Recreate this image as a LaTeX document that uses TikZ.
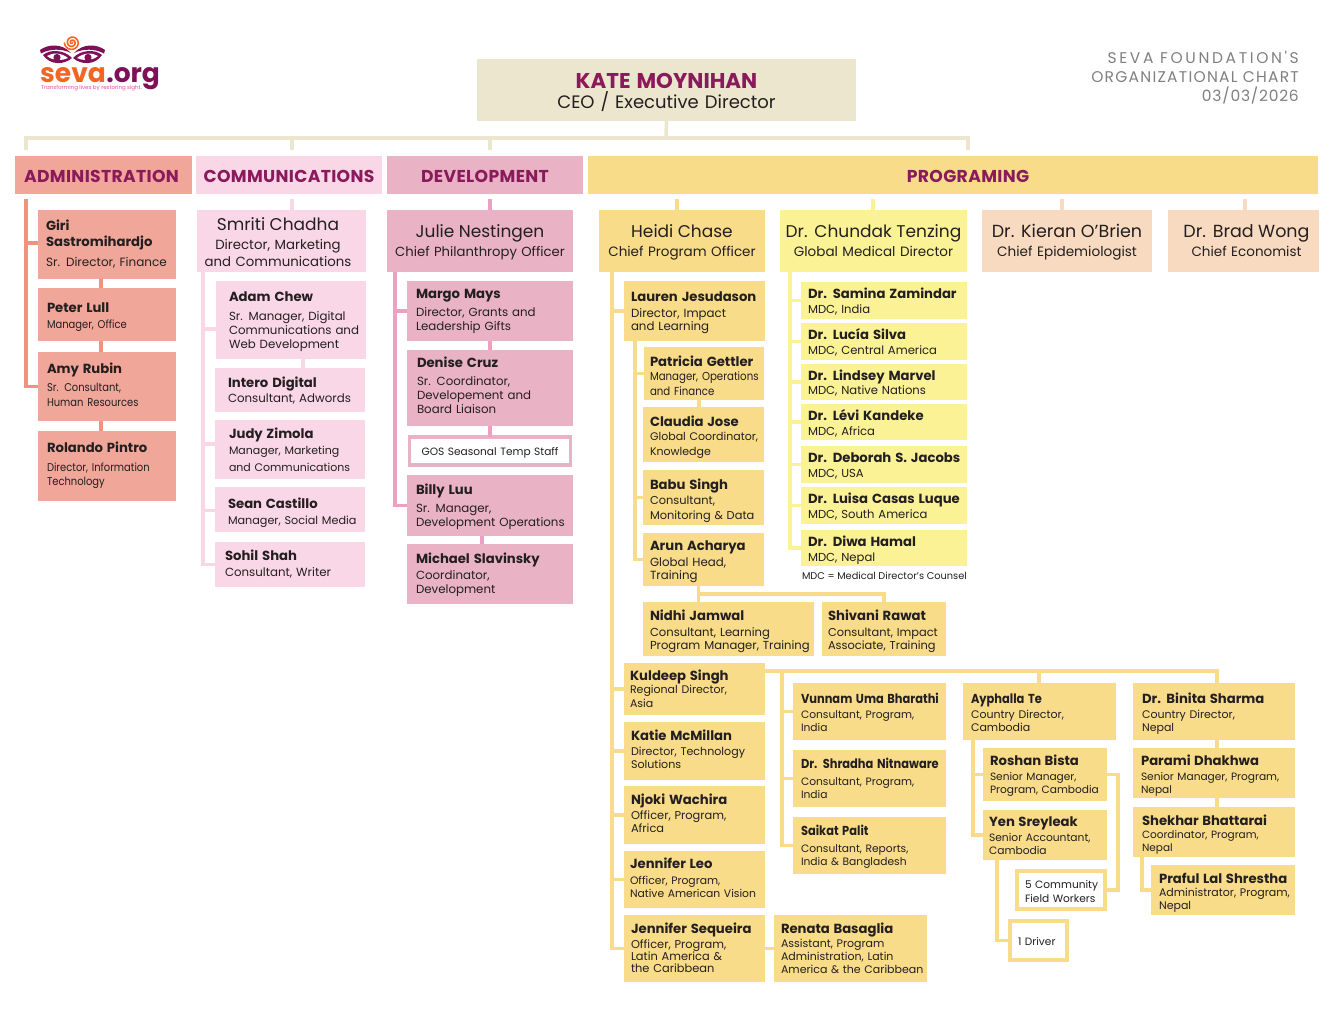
\documentclass[tikz,border=0pt]{standalone}
\usepackage{fontspec}
\usepackage{tikz}
\usetikzlibrary{positioning}
\setmainfont{Poppins}
\newfontfamily\trackfont{Poppins}
\newfontfamily\headfont[LetterSpace=2]{Poppins}
\newfontfamily\tightfont[FakeStretch=0.88]{Poppins}
\definecolor{ceofill}{HTML}{EDE6CE}
\definecolor{adminfill}{HTML}{F0A698}
\definecolor{adminline}{HTML}{EF9380}
\definecolor{commfill}{HTML}{FAD7E6}
\definecolor{devfill}{HTML}{E9B2C5}
\definecolor{devline}{HTML}{EE9FC4}
\definecolor{progfill}{HTML}{F8DC8A}
\definecolor{medfill}{HTML}{FBF295}
\definecolor{peachfill}{HTML}{F8DAC0}
\definecolor{headtext}{HTML}{8A1A5B}
\definecolor{inktext}{HTML}{231F20}
\definecolor{greytext}{HTML}{808080}
\definecolor{sevapurple}{HTML}{7F0F57}
\definecolor{sevaorange}{HTML}{F26522}
\definecolor{sevapink}{HTML}{EE4B9B}
\newcommand{\who}[1]{{\normalfont\bfseries\fontsize{13.2}{14.5}\selectfont #1}}
\newcommand{\whotight}[1]{{\tightfont\bfseries\fontsize{13}{14.5}\selectfont #1}}
\newcommand{\chief}[1]{{\fontsize{17}{20}\selectfont #1}}
\tikzset{
  orgbox/.style={anchor=north west,inner ysep=0pt,outer sep=0pt,align=left,text=inktext,role={11.8}{14}},
  role/.style 2 args={font=\fontsize{#1}{#2}\selectfont},
  tightrole/.style 2 args={font=\tightfont\fontsize{#1}{#2}\selectfont},
  wh/.style n args={4}{minimum width=#1pt,inner xsep=0pt,text width=#1pt,text height=#4pt,text depth=#2pt-#4pt,execute at begin node={\hyphenpenalty=10000\lineskiplimit=-100pt\leftskip=#3pt\relax}},
  cwh/.style n args={3}{minimum width=#1pt,inner xsep=0pt,text width=#1pt,text height=#3pt,text depth=#2pt-#3pt,execute at begin node={\hyphenpenalty=10000\lineskiplimit=-100pt\relax}},
  headbox/.style={orgbox,align=center,font=\headfont\bfseries\fontsize{17.2}{18}\selectfont,text=headtext},
  chiefbox/.style={orgbox,align=center,role={13.5}{17}},
  adminbox/.style={orgbox,fill=adminfill},
  commbox/.style={orgbox,fill=commfill},
  devbox/.style={orgbox,fill=devfill},
  progbox/.style={orgbox,fill=progfill},
  medbox/.style={orgbox,fill=medfill,role={11.6}{15}},
  outlinebox/.style={orgbox,fill=white,line width=3.6pt},
  link/.style={line width=3.6pt},
  ceolink/.style={link,draw=ceofill},
  adminlink/.style={link,draw=adminline},
  commlink/.style={link,draw=commfill},
  devlink/.style={link,draw=devline},
  proglink/.style={link,draw=progfill},
  medlink/.style={link,draw=medfill},
  peachlink/.style={link,draw=peachfill},
  eye/.pic={
    \fill [sevapurple] (40,50) .. controls (48,44) and (62,43) .. (71,53) .. controls (62,48.5) and (50,48.5) .. (41,53.5) -- cycle;
    \fill [sevapurple] (43,55) .. controls (50,49) and (64,49.5) .. (72,58) .. controls (64,65) and (50,65.5) .. (43,55) -- cycle;
    \fill [white] (47,56) .. controls (53,52) and (62,53) .. (68,58) .. controls (62,61) and (53,61) .. (47,56) -- cycle;
    \fill [sevapurple] (57,57.5) circle (3.6);
  },
}
\begin{document}
\begin{tikzpicture}[x=1pt,y=-1pt]
\useasboundingbox [fill=white] (0,0) rectangle (1340,1018);
\pic at (0,0) {eye};
\pic [xscale=-1] at (145,0) {eye};
\draw [sevaorange,line width=1.6pt] plot [domain=0:900,samples=70,smooth] ({72+0.0085*\x*cos(\x)},{42.5+0.0085*\x*sin(\x)});
\node [anchor=base west,inner sep=0pt,text=sevaorange,font=\bfseries\fontsize{26.5}{26}\selectfont] (sevaword) at (40,82) {seva};
\node [anchor=base west,inner sep=0pt,text=sevapurple,font=\bfseries\fontsize{26.5}{26}\selectfont] (orgword) at (sevaword.base east) {.org};
\node [anchor=base west,inner sep=0pt,text=sevapink,font=\fontsize{5.5}{6}\selectfont] (tagline) at (41,89) {Transforming lives by restoring sight.};
\node [anchor=north east,inner sep=0pt,align=right,text=greytext,font=\trackfont\fontsize{15.5}{19}\selectfont] (charttitle) at (1299,51) {{\addfontfeature{LetterSpace=17}SEVA FOUNDATION'S}\\{\addfontfeature{LetterSpace=8}ORGANIZATIONAL CHART}\\{\addfontfeature{LetterSpace=5}03/03/2026}};
\node [orgbox,fill=ceofill,align=center,cwh={379}{62}{29},role={18}{20}] (ceo) at (477,59) {{\bfseries\fontsize{21.4}{24}\selectfont\color{headtext}KATE MOYNIHAN}\\CEO / Executive Director};
\node [headbox,fill=adminfill,cwh={177}{38}{26}] (admin) at (15,156) {\hspace*{-4pt}ADMINISTRATION};
\node [headbox,fill=commfill,cwh={186}{38}{26}] (comm) at (196,156) {COMMUNICATIONS};
\node [headbox,fill=devfill,cwh={196}{38}{26}] (dev) at (387,156) {DEVELOPMENT};
\node [headbox,fill=progfill,cwh={730}{38}{26}] (prog) at (588,156) {\hspace*{30pt}PROGRAMING};
\node [adminbox,wh={138}{69}{8}{20},role={12}{14}] (giri) at (38,210) {\who{Giri}\\[2pt]\who{Sastromihardjo}\\[6pt]Sr. Director, Finance};
\node [adminbox,wh={138}{53}{9}{24},tightrole={11.3}{16}] (peter) at (38,288) {\who{Peter Lull}\\Manager, Office};
\node [adminbox,wh={138}{69}{9}{21},tightrole={11.3}{15}] (amy) at (38,352) {\who{Amy Rubin}\\[3pt]Sr. Consultant,\\Human Resources};
\node [adminbox,wh={138}{70}{9}{21},tightrole={11.3}{14}] (rolando) at (38,431) {\who{Rolando Pintro}\\[5pt]Director, Information\\Technology};
\node [chiefbox,fill=commfill,cwh={169}{62}{20},role={13.3}{17}] (smriti) at (197,210) {\hspace*{-7pt}\chief{Smriti Chadha}\\[2pt]\hspace*{-7pt}Director, Marketing\\\hspace*{-7pt}and Communications};
\node [commbox,wh={150}{78}{13}{20}] (adam) at (216,281) {\who{Adam Chew}\\[5pt]Sr. Manager, Digital\\Communications and\\Web Development};
\node [commbox,wh={150}{44}{13}{19},role={11.8}{15}] (intero) at (215,368) {\who{Intero Digital}\\Consultant, Adwords};
\node [commbox,wh={150}{59}{14}{18},role={11}{16.5}] (judy) at (215,420) {\who{Judy Zimola}\\Manager, Marketing\\and Communications};
\node [commbox,wh={150}{45}{13}{21},role={11.2}{16}] (sean) at (215,487) {\who{Sean Castillo}\\Manager, Social Media};
\node [commbox,wh={150}{45}{10}{18},role={11.8}{16}] (sohil) at (215,542) {\who{Sohil Shah}\\Consultant, Writer};
\node [chiefbox,fill=devfill,cwh={186}{62}{27},role={13.2}{19}] (julie) at (387,210) {\chief{Julie Nestingen}\\Chief Philanthropy Officer};
\node [devbox,wh={166}{60}{9}{17}] (margo) at (407,281) {\who{Margo Mays}\\[4pt]Director, Grants and\\Leadership Gifts};
\node [devbox,wh={166}{76}{10}{17}] (denise) at (407,350) {\who{Denise Cruz}\\[4pt]Sr. Coordinator,\\Developement and\\Board Liaison};
\node [outlinebox,draw=devfill,align=center,cwh={161}{28}{18},role={10.6}{12}] (gos) at (409.5,437) {GOS Seasonal Temp Staff};
\node [devbox,wh={166}{61}{9}{19}] (billy) at (407,475) {\who{Billy Luu}\\[4pt]Sr. Manager,\\Development Operations};
\node [devbox,wh={166}{60}{9}{19}] (michael) at (407,544) {\who{Michael Slavinsky}\\[2pt]Coordinator,\\Development};
\node [chiefbox,fill=progfill,cwh={166}{62}{27},role={13.5}{19}] (heidi) at (599,210) {\chief{Heidi Chase}\\Chief Program Officer};
\node [chiefbox,fill=medfill,cwh={187}{62}{27},role={13.5}{19}] (chundak) at (780,210) {\chief{Dr. Chundak Tenzing}\\Global Medical Director};
\node [chiefbox,fill=peachfill,cwh={170}{62}{27},role={13.6}{19}] (kieran) at (982,210) {{\fontsize{17.5}{20}\selectfont Dr. Kieran O'Brien}\\Chief Epidemiologist};
\node [chiefbox,fill=peachfill,cwh={151}{62}{27},role={13.5}{19}] (brad) at (1168,210) {\hspace*{6pt}{\fontsize{17.5}{20}\selectfont Dr. Brad Wong}\\\hspace*{6pt}Chief Economist};
\node [progbox,wh={141}{60}{7}{20},role={11.8}{13}] (lauren) at (624,281) {\who{Lauren Jesudason}\\[3pt]Director, Impact\\and Learning};
\node [progbox,wh={120}{53}{6}{19},tightrole={11.6}{14.5}] (patricia) at (644,347) {\who{Patricia Gettler}\\Manager, Operations\\and Finance};
\node [progbox,wh={121}{55}{7}{19},role={11}{14.5}] (claudia) at (643,407) {\who{Claudia Jose}\\Global Coordinator,\\Knowledge};
\node [progbox,wh={121}{55}{7}{19},role={11.4}{15}] (babu) at (643,470) {\who{Babu Singh}\\Consultant,\\Monitoring \& Data};
\node [progbox,wh={121}{53}{7}{17},role={11.8}{12.5}] (arun) at (643,533) {\who{Arun Acharya}\\[4pt]Global Head,\\Training};
\node [progbox,wh={171}{54}{7}{18},role={11.6}{13}] (nidhi) at (643,602) {\who{Nidhi Jamwal}\\[3pt]Consultant, Learning\\Program Manager, Training};
\node [progbox,wh={124}{54}{6}{18},role={11.4}{13}] (shivani) at (822,602) {\who{Shivani Rawat}\\[3pt]Consultant, Impact\\Associate, Training};
\node [medbox,wh={166}{37}{7}{16}] (samina) at (801,282) {\who{Dr. Samina Zamindar}\\MDC, India};
\node [medbox,wh={166}{37}{7}{16}] (lucia) at (801,323) {\who{Dr. Lucía Silva}\\MDC, Central America};
\node [medbox,wh={166}{36}{7}{16},role={11.6}{14}] (lindsey) at (801,364) {\who{Dr. Lindsey Marvel}\\MDC, Native Nations};
\node [medbox,wh={166}{36}{7}{16}] (levi) at (801,404) {\who{Dr. Lévi Kandeke}\\MDC, Africa};
\node [medbox,wh={166}{37}{7}{16}] (deborah) at (801,446) {\who{Dr. Deborah S. Jacobs}\\MDC, USA};
\node [medbox,wh={166}{37}{7}{16}] (luisa) at (801,487) {\who{Dr. Luisa Casas Luque}\\MDC, South America};
\node [medbox,wh={166}{36}{7}{16}] (diwa) at (801,530) {\who{Dr. Diwa Hamal}\\MDC, Nepal};
\node [anchor=base east,inner sep=0pt,text=inktext,font=\fontsize{9.8}{11}\selectfont] (mdcnote) at (967,579) {MDC = Medical Director's Counsel};
\node [progbox,wh={141}{52}{6}{17},role={11}{13.5}] (kuldeep) at (624,663) {\who{Kuldeep Singh}\\Regional Director,\\Asia};
\node [progbox,wh={141}{58}{7}{18},role={11.1}{13}] (katie) at (624,722) {\who{Katie McMillan}\\[2pt]Director, Technology\\Solutions};
\node [progbox,wh={141}{58}{7}{18},role={11.4}{13}] (njoki) at (624,786) {\who{Njoki Wachira}\\[2pt]Officer, Program,\\Africa};
\node [progbox,wh={141}{57}{6}{17},role={10.8}{13}] (leo) at (624,851) {\who{Jennifer Leo}\\[3pt]Officer, Program,\\Native American Vision};
\node [progbox,wh={141}{67}{7}{18},role={11.4}{12}] (sequeira) at (624,915) {\who{Jennifer Sequeira}\\[3pt]Officer, Program,\\Latin America \&\\the Caribbean};
\node [progbox,wh={153}{67}{7}{18},role={11}{13}] (renata) at (774,915) {\who{Renata Basaglia}\\[1pt]Assistant, Program\\Administration, Latin\\America \& the Caribbean};
\node [progbox,wh={153}{57}{8}{20},role={10.7}{13}] (vunnam) at (793,683) {\whotight{Vunnam Uma Bharathi}\\[2pt]Consultant, Program,\\India};
\node [progbox,wh={153}{57}{8}{18},role={10.7}{13}] (shradha) at (793,750) {\whotight{Dr. Shradha Nitnaware}\\[4pt]Consultant, Program,\\India};
\node [progbox,wh={153}{57}{8}{18},role={10.7}{13}] (saikat) at (793,817) {\whotight{Saikat Palit}\\[4pt]Consultant, Reports,\\India \& Bangladesh};
\node [progbox,wh={153}{57}{8}{20},role={11}{13}] (ayphalla) at (963,683) {\whotight{Ayphalla Te}\\[2pt]Country Director,\\Cambodia};
\node [progbox,wh={124}{53}{7}{17},role={10.6}{13}] (roshan) at (983,748) {\who{Roshan Bista}\\[2pt]Senior Manager,\\Program, Cambodia};
\node [progbox,wh={124}{50}{6}{16},role={10.7}{13}] (yen) at (983,810) {\who{Yen Sreyleak}\\[2pt]Senior Accountant,\\Cambodia};
\node [outlinebox,draw=progfill,wh={88}{38}{8}{17},role={10.6}{14}] (workers) at (1017,871) {5 Community\\Field Workers};
\node [outlinebox,draw=progfill,wh={57}{39}{8}{24},role={10.6}{13}] (driver) at (1010,921) {1 Driver};
\node [progbox,wh={162}{57}{9}{20},role={11}{13}] (binita) at (1133,683) {\who{Dr. Binita Sharma}\\[2pt]Country Director,\\Nepal};
\node [progbox,wh={162}{50}{8}{17},role={10.6}{13}] (parami) at (1133,748) {\who{Parami Dhakhwa}\\[2pt]Senior Manager, Program,\\Nepal};
\node [progbox,wh={162}{50}{9}{18},role={10.5}{13}] (shekhar) at (1133,807) {\who{Shekhar Bhattarai}\\Coordinator, Program,\\Nepal};
\node [progbox,wh={144}{50}{8}{18},role={11}{13}] (praful) at (1151,865) {\who{Praful Lal Shrestha}\\Administrator, Program,\\Nepal};
\coordinate (topbar) at (666,138);
\coordinate (admintop) at (26,150);
\coordinate (commtop) at (292,150);
\coordinate (devtop) at (490,150);
\coordinate (progtop) at (968,150);
\coordinate (adminstart) at (26,199);
\coordinate (commstart) at (292,199);
\coordinate (devstart) at (490,199);
\coordinate (heidistart) at (677,199);
\coordinate (chundakstart) at (873,199);
\coordinate (kieranstart) at (1062,199);
\coordinate (bradstart) at (1245,199);
\coordinate (regionbar) at (1039,671);
\draw [ceolink] (ceo.south) -- (topbar);
\draw [ceolink] (admintop) |- (topbar) -| (progtop);
\draw [ceolink] (commtop) -- (commtop |- topbar);
\draw [ceolink] (devtop) -- (devtop |- topbar);
\draw [adminlink] (adminstart) |- (amy.west);
\draw [adminlink] (adminstart) |- ([yshift=1.5pt]giri.west);
\draw [adminlink] ([xshift=-6pt]giri.south) -- ([xshift=-6pt]peter.north);
\draw [adminlink] ([xshift=-6pt]peter.south) -- ([xshift=-6pt]amy.north);
\draw [adminlink] ([xshift=-6pt]amy.south) -- ([xshift=-6pt]rolando.north);
\draw [commlink] (commstart) -- (smriti.north -| commstart);
\draw [commlink] ([xshift=6pt]smriti.south west) |- ([yshift=-9pt]adam.west);
\draw [commlink] ([xshift=6pt]smriti.south west) |- ([yshift=5.5pt]judy.west);
\draw [commlink] ([xshift=6pt]smriti.south west) |- ([yshift=-1pt]sean.west);
\draw [commlink] ([xshift=6pt]smriti.south west) |- (sohil.west);
\draw [commlink] ([xshift=12pt]adam.south) -- ([xshift=12pt]adam.south |- intero.north);
\draw [devlink] (devstart) -- (julie.north -| devstart);
\draw [devlink] ([xshift=8pt]julie.south west) |- (margo.west);
\draw [devlink] ([xshift=8pt]julie.south west) |- (billy.west);
\draw [devlink] (margo.south) -- (denise.north);
\draw [devlink] (denise.south) -- (gos.north);
\draw [devlink] ([xshift=-8pt]billy.south) -- ([xshift=-8pt]michael.north);
\draw [proglink] (heidistart) -- (heidi.north -| heidistart);
\draw [medlink] (chundakstart) -- (chundak.north -| chundakstart);
\draw [peachlink] (kieranstart) -- (kieran.north -| kieranstart);
\draw [peachlink] (bradstart) -- (brad.north -| bradstart);
\draw [proglink] ([xshift=13pt]heidi.south west) |- (lauren.west);
\draw [proglink] ([xshift=13pt]heidi.south west) |- (kuldeep.west);
\draw [proglink] ([xshift=13pt]heidi.south west) |- (katie.west);
\draw [proglink] ([xshift=13pt]heidi.south west) |- (njoki.west);
\draw [proglink] ([xshift=13pt]heidi.south west) |- (leo.west);
\draw [proglink] ([xshift=13pt]heidi.south west) |- (sequeira.west);
\draw [proglink] ([xshift=11pt]lauren.south west) |- (patricia.west);
\draw [proglink] ([xshift=11pt]lauren.south west) |- (babu.west);
\draw [proglink] ([xshift=11pt]lauren.south west) |- (arun.west);
\draw [proglink] ([xshift=-5pt]patricia.south) -- ([xshift=-5pt]patricia.south |- claudia.north);
\draw [proglink] ([xshift=-5pt]arun.south) -- ([xshift=-5pt]arun.south |- nidhi.north);
\draw [proglink] ([xshift=-5pt,yshift=-8pt]arun.south) -| (shivani.north);
\draw [medlink] ([xshift=10pt]chundak.south west) |- (samina.west);
\draw [medlink] ([xshift=10pt]chundak.south west) |- (lucia.west);
\draw [medlink] ([xshift=10pt]chundak.south west) |- (lindsey.west);
\draw [medlink] ([xshift=10pt]chundak.south west) |- (levi.west);
\draw [medlink] ([xshift=10pt]chundak.south west) |- (deborah.west);
\draw [medlink] ([xshift=10pt]chundak.south west) |- (luisa.west);
\draw [medlink] ([xshift=10pt]chundak.south west) |- (diwa.west);
\draw [proglink] (sequeira.east) -- (renata.west);
\draw [proglink] ([yshift=18pt]kuldeep.east) -| ([xshift=3pt]binita.north);
\draw [proglink] ([xshift=17pt,yshift=18pt]kuldeep.east) |- (vunnam.west);
\draw [proglink] ([xshift=17pt,yshift=18pt]kuldeep.east) |- (shradha.west);
\draw [proglink] ([xshift=17pt,yshift=18pt]kuldeep.east) |- (saikat.west);
\draw [proglink] (regionbar) -- (regionbar |- ayphalla.north);
\draw [proglink] ([xshift=10pt]ayphalla.south west) |- (roshan.west);
\draw [proglink] ([xshift=10pt]ayphalla.south west) |- (yen.west);
\draw [proglink] ([xshift=14pt]yen.south west) |- (driver.west);
\draw [proglink] (roshan.east) -| ([xshift=11pt]roshan.east |- workers.east) -- (workers.east);
\draw [proglink] ([xshift=3pt]binita.south) -- ([xshift=3pt]parami.north);
\draw [proglink] ([xshift=3pt]parami.south) -- ([xshift=3pt]shekhar.north);
\draw [proglink] ([xshift=9pt]shekhar.south west) |- (praful.west);
\end{tikzpicture}
\end{document}
